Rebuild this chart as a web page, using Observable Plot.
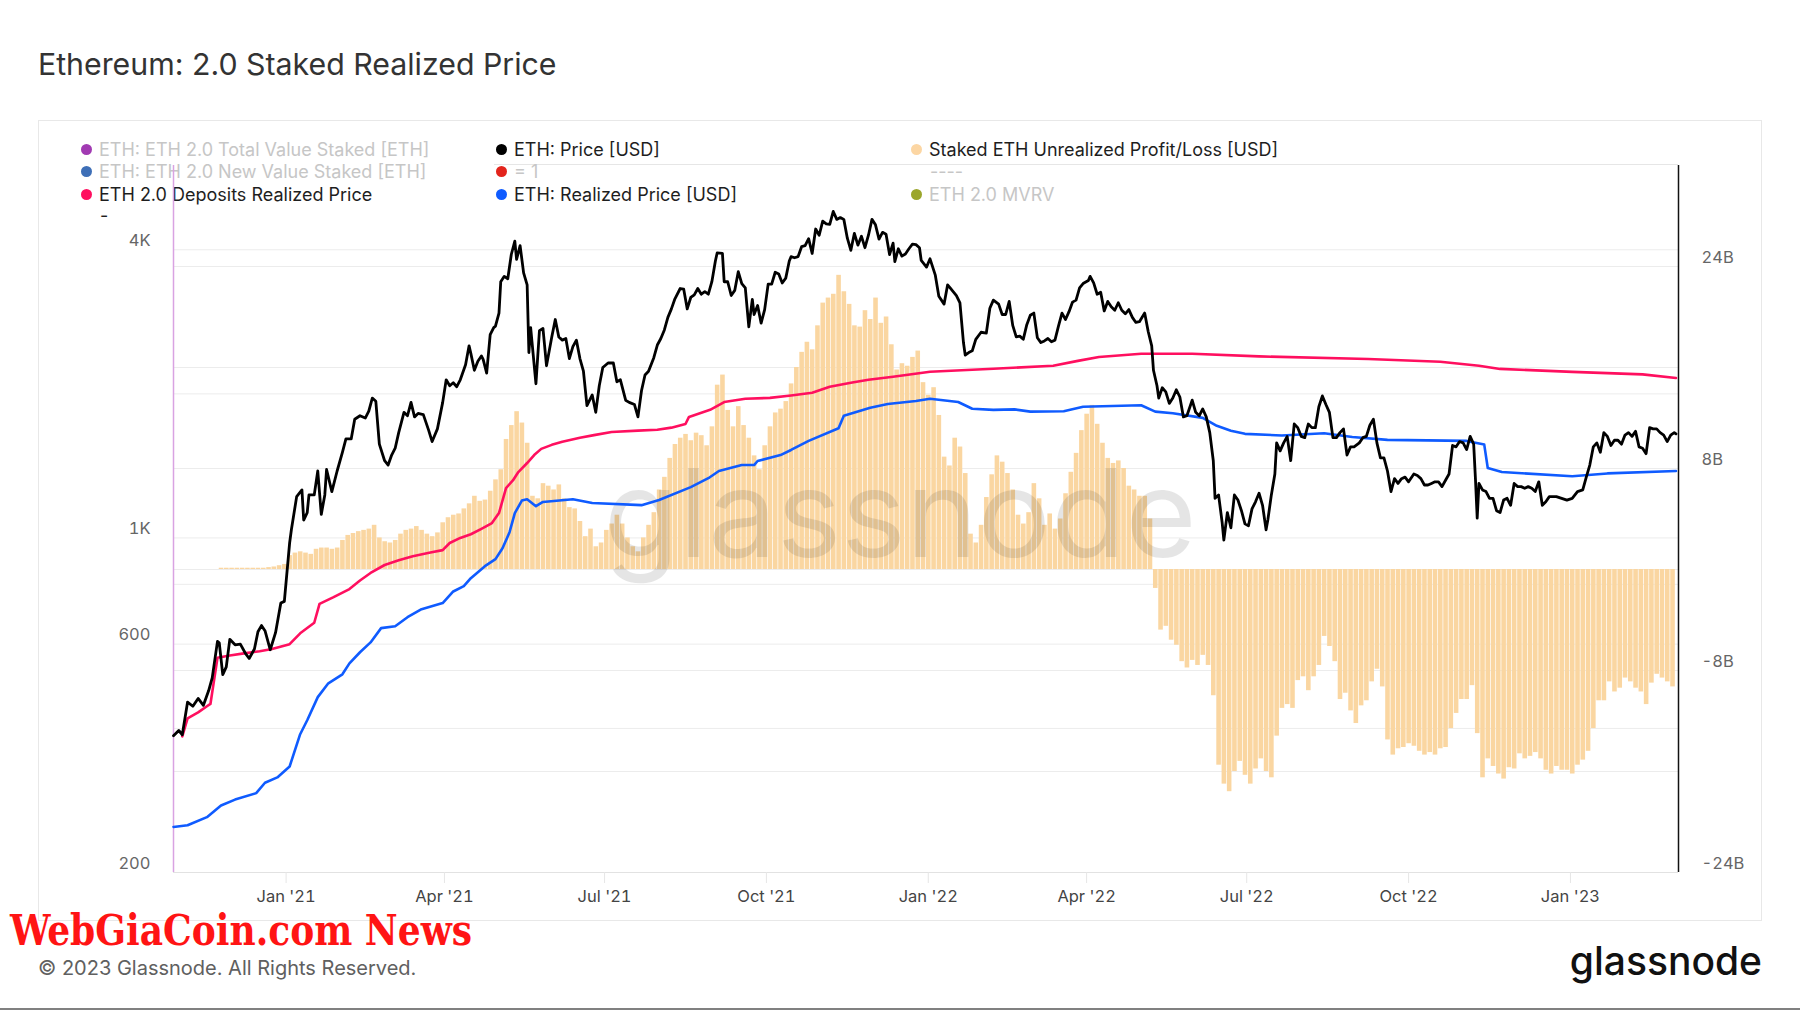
<!DOCTYPE html>
<html>
<head>
<meta charset="utf-8">
<script src="https://cdn.jsdelivr.net/npm/d3@7"></script>
<script src="https://cdn.jsdelivr.net/npm/@observablehq/plot@0.6"></script>
<style>
  body { margin: 0; background: #fff; font-family: Inter, "Noto Sans", sans-serif; }
  #page { position: relative; width: 1800px; height: 1013px; overflow: hidden; background: #fff; }
  .abs { position: absolute; }
  .layer { position: absolute; left: 0; top: 120px; }
  .leg { position: absolute; height: 22px; display: flex; align-items: center; font-size: 18px; white-space: nowrap; }
  .dot { width: 11px; height: 11px; border-radius: 50%; margin-right: 7px; flex: none; }
</style>
</head>
<body>
<div id="page">
  <div class="abs" id="title" style="left:38px;top:49px;font-size:30.3px;line-height:30px;color:#333;">Ethereum: 2.0 Staked Realized Price</div>
  <div class="abs" style="left:38px;top:120px;width:1722px;height:799px;border:1.5px solid #e8e8e8;"></div>
  <div id="layerA" class="layer"></div>
  <div id="layerB" class="layer"></div>
  <div class="abs" style="left:604px;top:452px;font-size:122px;line-height:122px;color:rgba(0,0,0,0.1);">glassnode</div>
  <div class="abs" style="left:494px;top:164px;width:1184px;height:1px;background:#e6e6e6;"></div>
  <div id="legend"></div>
  <div id="layerC" class="layer"></div>
  <div class="abs" id="red" style="left:10px;top:914px;font-family:'DejaVu Serif Condensed','DejaVu Serif',serif;font-stretch:condensed;font-weight:bold;font-size:42px;line-height:34px;color:#ff1414;white-space:nowrap;transform-origin:0 0;">WebGiaCoin.com News</div>
  <div class="abs" style="left:38px;top:958px;font-size:20px;line-height:20px;color:#606060;">© 2023 Glassnode. All Rights Reserved.</div>
  <div class="abs" style="right:38px;top:941px;font-size:39px;line-height:39px;font-weight:500;color:#111;">glassnode</div>
  <div class="abs" style="left:0;top:1008px;width:1800px;height:2px;background:#808080;"></div>
</div>
<script>
// ---------------- DATA ----------------
// ETH: Price [USD]
const ethPrice = [
["2020-10-29",386],["2020-11-01",396],["2020-11-03",388],["2020-11-06",454],["2020-11-09",445],["2020-11-12",462],["2020-11-15",447],["2020-11-18",480],["2020-11-20",510],["2020-11-23",608],["2020-11-24",604],["2020-11-26",518],["2020-11-28",538],["2020-11-30",614],
["2020-12-03",598],["2020-12-06",600],["2020-12-09",573],["2020-12-11",560],["2020-12-14",586],["2020-12-16",637],["2020-12-18",656],["2020-12-20",640],["2020-12-23",584],["2020-12-26",634],["2020-12-29",731],["2020-12-31",737],
["2021-01-03",976],["2021-01-04",1040],["2021-01-07",1220],["2021-01-10",1260],["2021-01-11",1090],["2021-01-13",1130],["2021-01-14",1230],["2021-01-17",1230],["2021-01-19",1380],["2021-01-21",1120],["2021-01-23",1230],["2021-01-24",1390],["2021-01-27",1250],["2021-01-30",1380],
["2021-02-02",1510],["2021-02-04",1610],["2021-02-07",1610],["2021-02-09",1770],["2021-02-12",1800],["2021-02-15",1780],["2021-02-17",1840],["2021-02-19",1960],["2021-02-21",1930],["2021-02-23",1570],["2021-02-26",1450],["2021-02-28",1420],
["2021-03-02",1490],["2021-03-04",1540],["2021-03-06",1660],["2021-03-09",1830],["2021-03-11",1800],["2021-03-13",1920],["2021-03-15",1790],["2021-03-17",1820],["2021-03-20",1810],["2021-03-23",1680],["2021-03-25",1590],["2021-03-28",1690],["2021-03-31",1920],
["2021-04-02",2140],["2021-04-04",2080],["2021-04-06",2110],["2021-04-08",2070],["2021-04-10",2140],["2021-04-13",2300],["2021-04-15",2520],["2021-04-16",2430],["2021-04-18",2240],["2021-04-20",2340],["2021-04-22",2400],["2021-04-23",2360],["2021-04-25",2210],["2021-04-27",2660],["2021-04-29",2750],["2021-04-30",2770],
["2021-05-02",2950],["2021-05-03",3430],["2021-05-05",3520],["2021-05-07",3480],["2021-05-09",3910],["2021-05-11",4170],["2021-05-12",3820],["2021-05-14",4080],["2021-05-16",3580],["2021-05-18",3380],["2021-05-19",2440],["2021-05-20",2750],["2021-05-23",2100],["2021-05-25",2710],["2021-05-27",2740],["2021-05-29",2290],
["2021-06-01",2630],["2021-06-03",2860],["2021-06-05",2630],["2021-06-07",2590],["2021-06-09",2610],["2021-06-11",2370],["2021-06-13",2510],["2021-06-15",2590],["2021-06-17",2370],["2021-06-19",2230],["2021-06-21",1890],["2021-06-24",1990],["2021-06-26",1830],["2021-06-28",2080],["2021-06-30",2270],
["2021-07-03",2320],["2021-07-06",2320],["2021-07-08",2120],["2021-07-10",2140],["2021-07-13",1940],["2021-07-15",1920],["2021-07-18",1900],["2021-07-20",1790],["2021-07-22",2030],["2021-07-24",2190],["2021-07-26",2230],["2021-07-29",2380],["2021-07-31",2530],
["2021-08-02",2610],["2021-08-04",2720],["2021-08-06",2890],["2021-08-08",3010],["2021-08-10",3160],["2021-08-13",3320],["2021-08-15",3310],["2021-08-17",3010],["2021-08-19",3180],["2021-08-21",3220],["2021-08-23",3320],["2021-08-25",3230],["2021-08-27",3270],["2021-08-29",3230],["2021-08-31",3430],
["2021-09-02",3790],["2021-09-03",3940],["2021-09-06",3930],["2021-09-07",3430],["2021-09-09",3430],["2021-09-11",3210],["2021-09-13",3290],["2021-09-15",3600],["2021-09-17",3400],["2021-09-19",3330],["2021-09-21",2760],["2021-09-23",3150],["2021-09-24",2930],["2021-09-26",3060],["2021-09-28",2810],["2021-09-30",3000],
["2021-10-02",3390],["2021-10-04",3390],["2021-10-06",3590],["2021-10-08",3560],["2021-10-10",3410],["2021-10-12",3490],["2021-10-14",3790],["2021-10-15",3870],["2021-10-17",3850],["2021-10-19",3870],["2021-10-21",4060],["2021-10-23",4080],["2021-10-25",4220],["2021-10-27",3930],["2021-10-29",4420],["2021-10-31",4290],
["2021-11-02",4590],["2021-11-04",4530],["2021-11-06",4520],["2021-11-08",4810],["2021-11-10",4630],["2021-11-12",4670],["2021-11-14",4630],["2021-11-16",4230],["2021-11-18",3990],["2021-11-20",4330],["2021-11-22",4090],["2021-11-24",4270],["2021-11-26",4040],["2021-11-28",4290],["2021-11-30",4630],
["2021-12-02",4510],["2021-12-04",4210],["2021-12-06",4350],["2021-12-08",4310],["2021-12-10",3910],["2021-12-12",4130],["2021-12-13",3780],["2021-12-15",4020],["2021-12-17",3880],["2021-12-19",3920],["2021-12-21",4020],["2021-12-23",4110],["2021-12-25",4100],["2021-12-27",4040],["2021-12-28",3800],["2021-12-31",3680],
["2022-01-02",3830],["2022-01-05",3540],["2022-01-07",3200],["2022-01-10",3080],["2022-01-12",3380],["2022-01-14",3310],["2022-01-17",3210],["2022-01-19",3100],["2022-01-21",2560],["2022-01-22",2410],["2022-01-24",2440],["2022-01-26",2460],["2022-01-28",2600],["2022-01-31",2690],
["2022-02-03",2680],["2022-02-05",3020],["2022-02-07",3140],["2022-02-10",3080],["2022-02-12",2930],["2022-02-14",2930],["2022-02-16",3120],["2022-02-18",2780],["2022-02-20",2630],["2022-02-22",2640],["2022-02-24",2600],["2022-02-26",2790],["2022-02-28",2920],
["2022-03-02",2950],["2022-03-04",2620],["2022-03-06",2560],["2022-03-08",2580],["2022-03-10",2610],["2022-03-12",2570],["2022-03-14",2590],["2022-03-16",2770],["2022-03-18",2950],["2022-03-20",2860],["2022-03-22",2970],["2022-03-24",3110],["2022-03-26",3140],["2022-03-28",3330],["2022-03-30",3400],
["2022-04-02",3450],["2022-04-03",3520],["2022-04-05",3410],["2022-04-07",3230],["2022-04-09",3260],["2022-04-11",2980],["2022-04-13",3120],["2022-04-15",3040],["2022-04-17",2990],["2022-04-19",3100],["2022-04-21",2990],["2022-04-23",2940],["2022-04-25",3000],["2022-04-27",2890],["2022-04-29",2820],
["2022-05-01",2830],["2022-05-04",2950],["2022-05-06",2700],["2022-05-08",2520],["2022-05-09",2240],["2022-05-11",2080],["2022-05-12",1960],["2022-05-14",2060],["2022-05-16",2020],["2022-05-18",1910],["2022-05-20",1960],["2022-05-22",2040],["2022-05-24",1970],["2022-05-26",1790],["2022-05-28",1800],["2022-05-31",1940],
["2022-06-02",1830],["2022-06-04",1800],["2022-06-06",1860],["2022-06-08",1790],["2022-06-10",1660],["2022-06-12",1450],["2022-06-13",1210],["2022-06-15",1230],["2022-06-17",1080],["2022-06-18",990],["2022-06-20",1130],["2022-06-22",1050],["2022-06-24",1230],["2022-06-26",1200],["2022-06-28",1140],["2022-06-30",1070],
["2022-07-02",1060],["2022-07-04",1150],["2022-07-06",1190],["2022-07-08",1240],["2022-07-10",1170],["2022-07-12",1040],["2022-07-13",1090],["2022-07-15",1230],["2022-07-17",1360],["2022-07-18",1580],["2022-07-20",1520],["2022-07-22",1580],["2022-07-24",1630],["2022-07-26",1450],["2022-07-28",1730],["2022-07-30",1700],
["2022-08-01",1630],["2022-08-03",1620],["2022-08-05",1730],["2022-08-07",1700],["2022-08-09",1700],["2022-08-11",1880],["2022-08-13",1980],["2022-08-15",1900],["2022-08-17",1830],["2022-08-19",1620],["2022-08-21",1620],["2022-08-23",1660],["2022-08-25",1690],["2022-08-27",1490],["2022-08-29",1550],["2022-08-31",1550],
["2022-09-03",1580],["2022-09-05",1620],["2022-09-07",1630],["2022-09-09",1720],["2022-09-11",1770],["2022-09-13",1580],["2022-09-15",1470],["2022-09-17",1470],["2022-09-19",1380],["2022-09-21",1250],["2022-09-23",1330],["2022-09-25",1300],["2022-09-27",1330],["2022-09-29",1340],
["2022-10-01",1310],["2022-10-04",1360],["2022-10-06",1350],["2022-10-08",1330],["2022-10-10",1290],["2022-10-12",1290],["2022-10-14",1300],["2022-10-16",1310],["2022-10-18",1310],["2022-10-20",1280],["2022-10-22",1320],["2022-10-24",1360],["2022-10-26",1560],["2022-10-28",1550],["2022-10-30",1590],
["2022-11-01",1580],["2022-11-03",1530],["2022-11-05",1630],["2022-11-07",1570],["2022-11-08",1330],["2022-11-09",1100],["2022-11-10",1300],["2022-11-12",1260],["2022-11-14",1250],["2022-11-16",1210],["2022-11-18",1210],["2022-11-20",1140],["2022-11-22",1130],["2022-11-24",1200],["2022-11-26",1210],["2022-11-28",1170],["2022-11-30",1300],
["2022-12-02",1280],["2022-12-04",1280],["2022-12-06",1270],["2022-12-08",1280],["2022-12-10",1270],["2022-12-12",1250],["2022-12-14",1310],["2022-12-16",1170],["2022-12-18",1190],["2022-12-20",1220],["2022-12-22",1220],["2022-12-24",1220],["2022-12-27",1210],["2022-12-30",1200],
["2023-01-02",1210],["2023-01-05",1250],["2023-01-08",1260],["2023-01-10",1340],["2023-01-12",1420],["2023-01-14",1550],["2023-01-16",1580],["2023-01-18",1510],["2023-01-20",1660],["2023-01-22",1630],["2023-01-24",1560],["2023-01-26",1600],["2023-01-28",1600],["2023-01-30",1570],
["2023-02-01",1640],["2023-02-03",1660],["2023-02-05",1630],["2023-02-07",1670],["2023-02-09",1550],["2023-02-11",1540],["2023-02-13",1500],["2023-02-15",1700],["2023-02-17",1690],["2023-02-19",1690],["2023-02-21",1660],["2023-02-23",1640],["2023-02-25",1590],["2023-02-27",1640],["2023-03-01",1660],["2023-03-02",1650]
];

// ETH 2.0 Deposits Realized Price
const depositsRealized = [
["2020-11-03",385],["2020-11-06",420],["2020-11-12",432],["2020-11-17",445],["2020-11-19",450],["2020-11-23",562],["2020-11-30",568],["2020-12-08",574],["2020-12-17",580],["2020-12-24",586],
["2021-01-03",600],["2021-01-09",632],["2021-01-17",665],["2021-01-20",728],["2021-01-28",752],["2021-02-06",782],["2021-02-12",815],["2021-02-18",845],["2021-02-26",878],["2021-03-06",898],["2021-03-14",916],["2021-03-24",932],["2021-03-31",943],
["2021-04-04",976],["2021-04-10",1000],["2021-04-16",1018],["2021-04-22",1045],["2021-04-28",1074],["2021-05-02",1127],["2021-05-06",1271],["2021-05-10",1320],["2021-05-13",1373],["2021-05-18",1434],["2021-05-22",1490],["2021-05-26",1535],
["2021-06-01",1565],["2021-06-07",1588],["2021-06-17",1619],["2021-06-25",1640],["2021-07-05",1665],["2021-07-20",1676],["2021-07-31",1683],["2021-08-08",1700],["2021-08-16",1730],["2021-08-18",1790],["2021-08-30",1852],["2021-09-07",1923],["2021-09-19",1953],
["2021-10-03",1962],["2021-10-15",1985],["2021-10-27",2011],["2021-11-06",2070],["2021-11-18",2110],["2021-11-28",2140],["2021-12-12",2171],["2022-01-02",2225],["2022-02-07",2257],["2022-03-13",2289],["2022-03-27",2344],["2022-04-08",2389],
["2022-05-02",2426],["2022-05-31",2426],["2022-07-08",2395],["2022-09-08",2366],["2022-10-19",2334],["2022-11-10",2290],["2022-11-22",2255],["2023-01-02",2223],["2023-02-11",2197],["2023-03-02",2158]
];

// ETH: Realized Price [USD]
const ethRealized = [
["2020-10-29",249],["2020-11-06",251],["2020-11-17",261],["2020-11-25",276],["2020-12-03",284],["2020-12-15",293],["2020-12-20",308],["2020-12-27",316],
["2021-01-03",333],["2021-01-09",389],["2021-01-13",416],["2021-01-19",465],["2021-01-25",497],["2021-02-02",519],["2021-02-06",547],["2021-02-12",577],["2021-02-18",605],["2021-02-24",648],
["2021-03-04",654],["2021-03-11",683],["2021-03-19",710],["2021-03-31",731],["2021-04-06",773],["2021-04-12",793],["2021-04-16",824],["2021-04-24",873],["2021-04-30",903],
["2021-05-04",952],["2021-05-08",1028],["2021-05-11",1127],["2021-05-15",1197],["2021-05-18",1205],["2021-05-23",1165],["2021-05-27",1189],["2021-06-13",1205],["2021-06-24",1183],["2021-07-22",1171],
["2021-08-01",1200],["2021-08-19",1277],["2021-08-29",1333],["2021-09-04",1380],["2021-09-17",1420],["2021-09-24",1420],["2021-09-26",1448],["2021-10-09",1490],["2021-10-15",1527],["2021-10-25",1595],
["2021-11-11",1695],["2021-11-14",1800],["2021-11-29",1870],["2021-12-09",1905],["2021-12-25",1933],["2022-01-02",1953],["2022-01-18",1923],["2022-01-26",1862],["2022-02-07",1852],["2022-02-19",1856],["2022-02-28",1836],
["2022-03-19",1840],["2022-03-30",1880],["2022-05-02",1893],["2022-05-10",1836],["2022-05-20",1822],["2022-06-06",1782],["2022-06-14",1715],["2022-06-22",1675],["2022-06-30",1650],["2022-07-21",1637],["2022-08-14",1655],["2022-08-30",1625],
["2022-09-19",1603],["2022-11-03",1595],["2022-11-13",1567],["2022-11-15",1400],["2022-11-23",1373],["2023-01-02",1346],["2023-01-22",1364],["2023-03-02",1380]
];

// Staked ETH Unrealized Profit/Loss [USD], in billions, 3-day periods starting 2020-11-03
const pnlStart = "2020-11-03";
const pnlStepDays = 3;
const stakedPnlB = [
0,0,0,0,0,0,0,0.1,0.1,0.1,
0.1,0.1,0.1,0.1,0.1,0.1,0.15,0.2,0.3,0.4,
1.1,1.3,1.4,1.3,1.2,1.6,1.7,1.7,1.6,1.7,
2.3,2.7,2.85,3.0,3.1,3.2,3.5,2.5,2.2,2.1,
2.3,2.8,3.1,3.2,3.4,3.1,2.8,2.6,2.9,3.7,
4.1,4.3,4.4,4.8,5.2,5.8,5.4,5.5,6.2,7.1,
7.9,10.3,11.4,12.5,11.6,10.0,5.8,5.6,6.8,6.6,
6.3,6.7,5.6,4.9,4.8,3.8,2.6,3.2,1.8,2.1,
3.1,3.6,4.3,3.6,2.5,1.8,1.4,2.5,3.5,4.5,
6.3,7.3,8.8,9.9,10.4,10.7,10.2,10.8,10.6,9.8,
11.3,14.6,15.4,12.6,11.3,12.9,11.4,10.4,9.0,7.9,
9.8,11.3,12.4,12.7,13.3,14.7,16.0,17.2,18.0,17.4,
19.3,21.1,21.5,21.8,23.3,22.0,21.0,19.3,19.2,20.5,
19.8,21.5,19.5,20.0,17.8,15.8,16.3,16.1,16.8,17.3,
14.8,13.8,14.4,12.2,8.9,8.2,10.4,9.7,7.6,2.8,
2.1,3.5,5.7,7.5,9.0,8.5,7.6,6.3,4.3,3.6,
4.5,6.8,5.6,3.5,4.4,3.2,4.0,6.0,7.7,9.2,
11.0,12.3,13.0,11.5,10.0,8.8,8.4,8.6,8.0,6.6,
6.3,5.8,5.8,4.0,-1.5,-4.8,-4.5,-5.6,-6.0,-7.3,
-7.8,-7.2,-7.6,-6.8,-7.6,-10.0,-15.5,-17.0,-17.6,-16.0,
-15.2,-16.3,-17.0,-15.8,-15.0,-16.0,-16.5,-13.2,-11.0,-10.7,
-11.0,-8.8,-8.5,-9.6,-8.5,-7.6,-5.3,-6.1,-7.3,-10.3,
-9.8,-11.2,-12.2,-10.8,-10.4,-8.9,-7.9,-9.3,-13.5,-14.7,
-14.2,-14.1,-13.8,-14.0,-14.4,-14.7,-14.5,-14.7,-14.2,-14.1,
-12.6,-11.4,-10.3,-10.3,-9.2,-13.0,-16.5,-15.0,-15.6,-16.2,
-16.6,-15.7,-15.8,-14.6,-15.0,-14.8,-14.5,-15.0,-15.9,-16.2,
-15.6,-15.9,-15.9,-16.2,-15.5,-15.1,-14.4,-12.6,-10.4,-10.4,
-8.9,-9.7,-9.4,-8.6,-8.9,-9.4,-9.7,-10.7,-9.0,-8.3,
-8.6,-8.9,-9.3
];

// Axes
const xDomainDates = ["2020-10-29T00:00Z", "2023-03-03T10:00Z"];
const xTickDates = ["2021-01-01","2021-04-01","2021-07-01","2021-10-01","2022-01-01","2022-04-01","2022-07-01","2022-10-01","2023-01-01"];
const leftDomain = [200, 6000];
const leftTicks = [4000, 1000, 600, 200];
const leftTickLabels = ["4K", "1K", "600", "200"];
const leftGrid = [4000, 2000, 1000, 800, 600, 400];
const rightDomainB = [-24, 32];
const rightTicksB = [-24, -8, 8, 24];
const rightGridB = [-16, -8, 0, 8, 16, 24];

// Legend
const legendItems = [
  {col: 0, row: 0, label: "ETH: ETH 2.0 Total Value Staked [ETH]", dot: "#a13ab2", active: false},
  {col: 0, row: 1, label: "ETH: ETH 2.0 New Value Staked [ETH]", dot: "#3e6fb7", active: false},
  {col: 0, row: 2, label: "ETH 2.0 Deposits Realized Price", dot: "#ff0f5f", active: true},
  {col: 0, row: 3, label: "-", dot: null, active: true},
  {col: 1, row: 0, label: "ETH: Price [USD]", dot: "#000000", active: true},
  {col: 1, row: 1, label: "= 1", dot: "#e3241c", active: false},
  {col: 1, row: 2, label: "ETH: Realized Price [USD]", dot: "#0f5bff", active: true},
  {col: 2, row: 0, label: "Staked ETH Unrealized Profit/Loss [USD]", dot: "#fcd6a3", active: true},
  {col: 2, row: 1, label: "----", dot: null, active: false},
  {col: 2, row: 2, label: "ETH 2.0 MVRV", dot: "#9ba62b", active: false}
];

// ---------------- BUILD ----------------
const parse = s => new Date(s.length === 10 ? s + "T00:00Z" : s);
const priceData = ethPrice.map(([d, v]) => ({date: parse(d), v}));
const depData = depositsRealized.map(([d, v]) => ({date: parse(d), v}));
const realData = ethRealized.map(([d, v]) => ({date: parse(d), v}));
const start = parse(pnlStart);
const barData = stakedPnlB.map((v, i) => ({
  d0: d3.utcDay.offset(start, pnlStepDays * i),
  d1: d3.utcDay.offset(start, pnlStepDays * (i + 1)),
  v
}));
const xDomain = xDomainDates.map(parse);
const xTicks = xTickDates.map(parse);

const common = {
  width: 1800, height: 801,
  marginTop: 45, marginBottom: 49, marginLeft: 173, marginRight: 122,
  style: {background: "transparent", fontFamily: "Inter, 'Noto Sans', sans-serif", fontSize: "16.5px", overflow: "visible"}
};

// Layer A: left grid, left axis, x axis
const layerA = Plot.plot({
  ...common,
  x: {type: "utc", domain: xDomain},
  y: {type: "log", domain: leftDomain},
  marks: [
    Plot.gridY(leftGrid, {stroke: "#ececec", strokeOpacity: 1}),
    Plot.ruleY([leftDomain[0]], {stroke: "#e2e2e2"}),
    Plot.axisY(leftTicks, {tickSize: 0, tickPadding: 23, dy: -9, fill: "#666", fontSize: 16.5, label: null,
      tickFormat: d => leftTickLabels[leftTicks.indexOf(d)]}),
    Plot.axisX(xTicks, {tickSize: 11, tickPadding: 7, stroke: "#e6e6e6", fill: "#444", fontSize: 16.5, label: null,
      tickFormat: d3.utcFormat("%b '%y")})
  ]
});
document.getElementById("layerA").append(layerA);

// Layer B: bars on right (linear, billions) axis
const layerB = Plot.plot({
  ...common,
  x: {type: "utc", domain: xDomain, axis: null},
  y: {domain: rightDomainB},
  marks: [
    Plot.gridY(rightGridB, {stroke: "#ececec", strokeOpacity: 1}),
    Plot.rect(barData, {x1: "d0", x2: "d1", y1: () => 0, y2: "v", fill: "#fad6a1", insetLeft: 0, insetRight: 0.7}),
    Plot.axisY(rightTicksB, {anchor: "right", tickSize: 0, tickPadding: 23, dy: -9, fill: "#666", fontSize: 16.5, label: null,
      tickFormat: d => d + "B"})
  ]
});
document.getElementById("layerB").append(layerB);

// Layer C: lines and axis edges
const layerC = Plot.plot({
  ...common,
  x: {type: "utc", domain: xDomain, axis: null},
  y: {type: "log", domain: leftDomain, axis: null},
  marks: [
    Plot.ruleX([xDomain[0]], {stroke: "#d9a3e2", strokeWidth: 1.5}),
    Plot.ruleX([xDomain[1]], {stroke: "#111", strokeWidth: 1.5}),
    Plot.line(realData, {x: "date", y: "v", stroke: "#0f5bff", strokeWidth: 2.6}),
    Plot.line(depData, {x: "date", y: "v", stroke: "#ff0f5f", strokeWidth: 2.6}),
    Plot.line(priceData, {x: "date", y: "v", stroke: "#000", strokeWidth: 2.8})
  ]
});
document.getElementById("layerC").append(layerC);

// Legend
const colX = [81, 496, 911];
const rowY = [138, 160, 183, 204];
const leg = document.getElementById("legend");
legendItems.forEach(it => {
  const el = document.createElement("div");
  el.className = "leg";
  el.style.left = (it.dot ? colX[it.col] : colX[it.col] + 19) + "px";
  el.style.top = rowY[it.row] + "px";
  el.style.color = it.active ? "#1e1e1e" : "#c6c6c6";
  if (it.dot) {
    const d = document.createElement("span");
    d.className = "dot";
    d.style.background = it.dot;
    el.append(d);
  }
  const t = document.createElement("span");
  t.textContent = it.label;
  el.append(t);
  leg.append(el);
});

// Fit the red banner text to its width in the reference
const red = document.getElementById("red");
const rw = red.getBoundingClientRect().width;
if (rw > 0) red.style.transform = `scaleX(${462 / rw})`;
</script>
</body>
</html>
